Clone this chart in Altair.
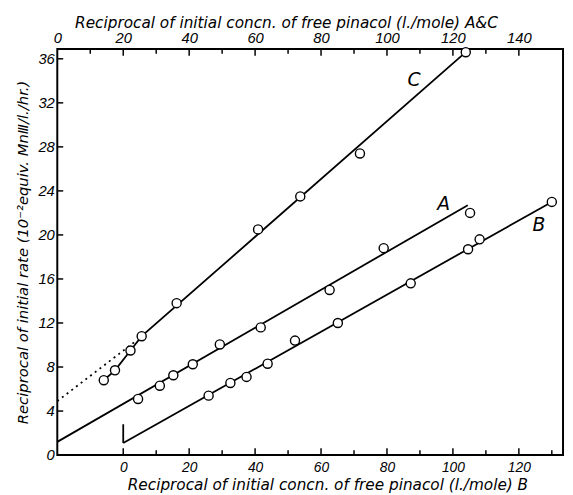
import altair as alt
import pandas as pd

# ---------------- axis tick values ----------------
top_labels = [0, 20, 40, 60, 80, 100, 120, 140]
top_major = [20, 40, 60, 80, 100, 120, 140]
top_minor = [10, 30, 50, 70, 90, 110, 130]
bot_labels = [0, 20, 40, 60, 80, 100, 120]
bot_major = [0, 20, 40, 60, 80, 100, 120]
bot_minor = [10, 30, 50, 70, 90, 110, 130]
y_labels = [0, 4, 8, 12, 16, 20, 24, 28, 32, 36]
y_ticks = [4, 8, 12, 16, 20, 24, 28, 32, 36]

# ---------------- data ----------------
# series C (top axis, A&C)
c_x = [14.1, 17.5, 22.2, 25.6, 36.2, 60.9, 73.7, 91.8, 123.9]
c_y = [6.8, 7.7, 9.5, 10.8, 13.8, 20.5, 23.5, 27.4, 36.6]
# series A (top axis, A&C)
a_x = [24.5, 31.1, 35.2, 41.1, 49.3, 61.7, 82.6, 99.0, 125.2]
a_y = [5.1, 6.3, 7.25, 8.25, 10.05, 11.6, 15.0, 18.8, 22.0]
# series B (bottom axis)
b_x = [25.9, 32.5, 37.4, 43.8, 52.1, 65.1, 87.2, 104.6, 108.1, 130.0]
b_y = [5.4, 6.55, 7.1, 8.3, 10.4, 12.0, 15.6, 18.7, 19.6, 23.0]

# drawn lines
a_line_x = [0, 124.5]
a_line_y = [1.2, 22.7]
c_line_x = [14.1, 17.5, 22.2, 25.6, 123.9]
c_line_y = [6.8, 7.7, 9.5, 10.8, 36.6]
c_extrap_x = [0, 24.0]
c_extrap_y = [4.9, 10.4]
b_line_x = [0, 130.0]
b_line_y = [1.1, 23.0]
b_mark_x = [0]
b_mark_y = [1.1]
b_mark_y2 = [2.8]

# series labels
top_label_text = ["A", "C"]
top_label_x = [117.2, 108.2]
top_label_y = [22.8, 34.1]
bot_label_text = ["B"]
bot_label_x = [126.1]
bot_label_y = [20.9]

FONT = "Liberation Sans"
TFONT = "DejaVu Sans"
X_TOP = alt.Scale(domain=[0, 153.4], nice=False, zero=False)
X_BOT = alt.Scale(domain=[-20, 133.4], nice=False, zero=False)
Y = alt.Scale(domain=[0, 36.9], nice=False, zero=False)

common = dict(ticks=False, domain=False, grid=False, labelFont=FONT,
              labelFontStyle="italic", labelColor="black",
              labelFlush=False, labelOverlap=False, titleFont=TFONT,
              titleFontStyle="italic", titleFontWeight="normal",
              titleColor="black")

AX_TOP = alt.Axis(orient="top", values=top_labels, labelPadding=3, labelFontSize=15,
                  title="Reciprocal of initial concn. of free pinacol (l./mole) A&C",
                  titleFontSize=15.5,
                  titleX=232, titleY=-22, titleAlign="center",
                  titleBaseline="alphabetic", **common)
AX_BOT = alt.Axis(orient="bottom", values=bot_labels, labelPadding=6, labelFontSize=14,
                  title="Reciprocal of initial concn. of free pinacol (l./mole) B",
                  titleFontSize=15.5,
                  titleX=274, titleY=35, titleAlign="center",
                  titleBaseline="alphabetic", **common)
AX_Y = alt.Axis(orient="left", values=y_labels, labelPadding=3, labelFontSize=15,
                title="Reciprocal of initial rate (10\u207b\u00b2equiv. Mn\u2162/l./hr.)",
                titleFontSize=15,
                titleAngle=270, titleX=-30, titleY=206, titleAlign="center",
                titleBaseline="alphabetic", **common)


def xt(f):
    return alt.X(f, type="quantitative", scale=X_TOP, axis=AX_TOP)


def xb(f):
    return alt.X(f, type="quantitative", scale=X_BOT, axis=AX_BOT)


def yy(f):
    return alt.Y(f, type="quantitative", scale=Y, axis=AX_Y)


LINE = dict(color="black", strokeWidth=1.8)
PT = dict(shape="circle", filled=True, fill="white", stroke="black",
          strokeWidth=1.4, size=85, opacity=1)

# ---------- top (A & C) group ----------
a_line = alt.Chart(pd.DataFrame({"x": a_line_x, "y": a_line_y})).mark_line(**LINE).encode(
    x=xt("x"), y=yy("y"))
c_line = alt.Chart(pd.DataFrame({"x": c_line_x, "y": c_line_y})).mark_line(**LINE).encode(
    x=xt("x"), y=yy("y"))
c_dot = alt.Chart(pd.DataFrame({"x": c_extrap_x, "y": c_extrap_y})).mark_line(
    color="black", strokeWidth=1.8, strokeDash=[2, 4]).encode(x=xt("x"), y=yy("y"))
top_pts = alt.Chart(pd.DataFrame({"x": a_x + c_x, "y": a_y + c_y})).mark_point(**PT).encode(
    x=xt("x"), y=yy("y"))
top_tmaj = alt.Chart(pd.DataFrame({"v": top_major})).mark_rule(color="black", strokeWidth=1.5).encode(
    x=xt("v"), y=alt.value(0), y2=alt.value(7))
top_tmin = alt.Chart(pd.DataFrame({"v": top_minor})).mark_rule(color="black", strokeWidth=1.5).encode(
    x=xt("v"), y=alt.value(0), y2=alt.value(5))
left_t = alt.Chart(pd.DataFrame({"v": y_ticks})).mark_rule(color="black", strokeWidth=1.5).encode(
    y=yy("v"), x=alt.value(0), x2=alt.value(6))
top_txt = alt.Chart(pd.DataFrame({"x": top_label_x, "y": top_label_y, "t": top_label_text})).mark_text(
    font=TFONT, fontStyle="italic", fontSize=19, align="center", baseline="middle", color="black").encode(
    x=xt("x"), y=yy("y"), text="t:N")

top_group = alt.layer(a_line, c_line, c_dot, top_pts, top_tmaj, top_tmin, left_t, top_txt)

# ---------- bottom (B) group ----------
b_line = alt.Chart(pd.DataFrame({"x": b_line_x, "y": b_line_y})).mark_line(**LINE).encode(
    x=xb("x"), y=yy("y"))
b_mark = alt.Chart(pd.DataFrame({"x": b_mark_x, "y": b_mark_y, "y2": b_mark_y2})).mark_rule(**LINE).encode(
    x=xb("x"), y=yy("y"), y2="y2")
b_pts = alt.Chart(pd.DataFrame({"x": b_x, "y": b_y})).mark_point(**PT).encode(
    x=xb("x"), y=yy("y"))
bot_tmaj = alt.Chart(pd.DataFrame({"v": bot_major})).mark_rule(color="black", strokeWidth=1.5).encode(
    x=xb("v"), y=alt.value(412), y2=alt.value(405))
bot_tmin = alt.Chart(pd.DataFrame({"v": bot_minor})).mark_rule(color="black", strokeWidth=1.5).encode(
    x=xb("v"), y=alt.value(412), y2=alt.value(407))
bot_txt = alt.Chart(pd.DataFrame({"x": bot_label_x, "y": bot_label_y, "t": bot_label_text})).mark_text(
    font=TFONT, fontStyle="italic", fontSize=19, align="center", baseline="middle", color="black").encode(
    x=xb("x"), y=yy("y"), text="t:N")

bot_group = alt.layer(b_line, b_mark, b_pts, bot_tmaj, bot_tmin, bot_txt)

chart = alt.layer(top_group, bot_group).resolve_scale(x="independent").properties(
    width=513, height=412,
    padding={"left": 50, "top": 38, "right": 2, "bottom": 36},
    autosize=alt.AutoSizeParams(type="none"),
    background="white",
).configure_view(stroke="black", strokeWidth=2)

chart.save("out.html", embed_options={"renderer": "svg", "actions": False})
